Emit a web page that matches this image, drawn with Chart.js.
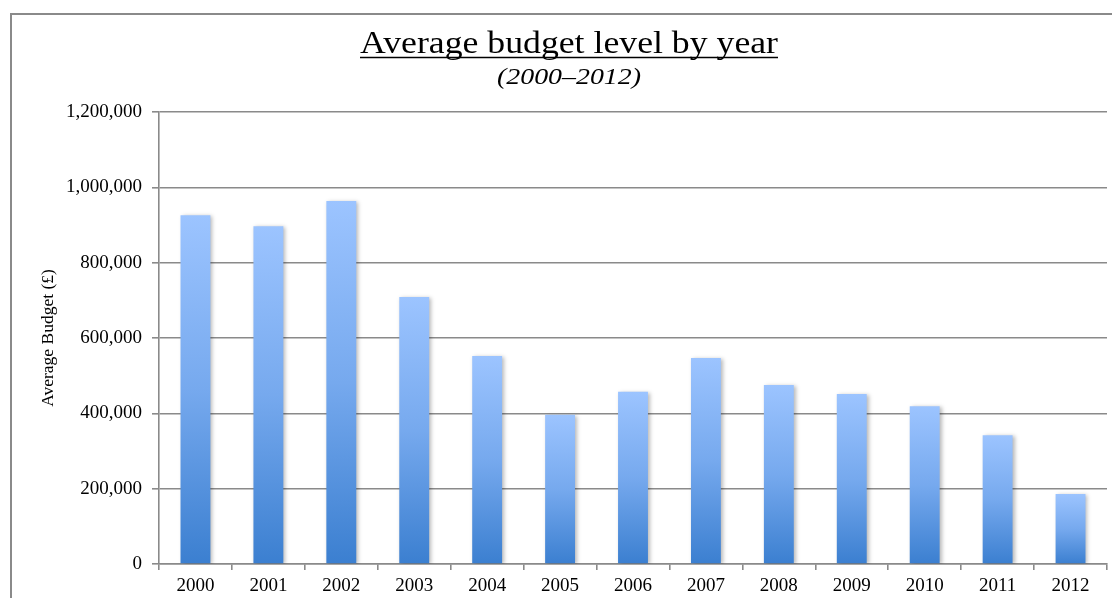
<!DOCTYPE html>
<html>
<head>
<meta charset="utf-8">
<script src="https://cdn.jsdelivr.net/npm/chart.js@4.4.1/dist/chart.umd.min.js"></script>
<style>
  html, body { margin: 0; padding: 0; background: #fff; }
  #wrap { width: 1112px; height: 598px; position: relative; }
</style>
</head>
<body>
<div id="wrap"><canvas id="budget"></canvas></div>
<script>
const years = ['2000', '2001', '2002', '2003', '2004', '2005', '2006',
               '2007', '2008', '2009', '2010', '2011', '2012'];
const avgBudget = [926000, 897000, 964000, 709000, 552000, 396000, 457000,
                   547000, 475000, 451000, 419000, 342000, 186000];
const yTicks = [0, 200000, 400000, 600000, 800000, 1000000, 1200000];

const titleText = 'Average budget level by year';
const subtitleText = '(2000\u20132012)';
const axisTitle = 'Average Budget (\u00a3)';

const serif = 'Liberation Serif, Times New Roman, serif';
const gridGrey = '#8a8a8a';

// light blue at the top of each bar, deeper blue at its base
function barGradient(ctx) {
  const chart = ctx.chart;
  const y = chart.scales.y;
  if (!y || !ctx.parsed) return '#9cc3fe';
  const top = y.getPixelForValue(ctx.parsed.y);
  const base = y.getPixelForValue(0);
  if (!isFinite(top) || !isFinite(base) || top === base) return '#9cc3fe';
  const g = chart.ctx.createLinearGradient(0, top, 0, base);
  g.addColorStop(0, '#9cc4ff');
  g.addColorStop(0.5, '#76a9ee');
  g.addColorStop(1, '#3b7fd0');
  return g;
}

// draws text centred on cx, widened horizontally to the given width
function wideText(c, text, cx, y, width) {
  const w = c.measureText(text).width;
  const sx = width / w;
  c.save();
  c.translate(cx, y);
  c.scale(sx, 1);
  c.fillText(text, 0, 0);
  c.restore();
}

// outer frame plus the underlined title block
const frameAndTitle = {
  id: 'frameAndTitle',
  beforeDraw(chart) {
    const c = chart.ctx;
    c.save();
    c.strokeStyle = gridGrey;
    c.lineWidth = 2;
    c.strokeRect(11, 14, 1300, 800);
    c.restore();
  },
  afterDraw(chart) {
    const c = chart.ctx;
    const cx = 569;
    const titleWidth = 418;
    c.save();
    c.fillStyle = '#000';
    c.textAlign = 'center';
    c.textBaseline = 'alphabetic';
    c.font = '31px ' + serif;
    wideText(c, titleText, cx, 53, titleWidth);
    c.strokeStyle = '#000';
    c.lineWidth = 1.5;
    c.beginPath();
    c.moveTo(cx - titleWidth / 2, 57.5);
    c.lineTo(cx + titleWidth / 2, 57.5);
    c.stroke();
    c.font = 'italic 23px ' + serif;
    wideText(c, subtitleText, cx, 84, 144);
    c.restore();
  }
};

// soft drop shadow to the right of the bars
const barShadow = {
  id: 'barShadow',
  beforeDatasetsDraw(chart) {
    const c = chart.ctx;
    c.save();
    c.shadowColor = 'rgba(0,0,0,0.28)';
    c.shadowBlur = 4;
    c.shadowOffsetX = 2;
    c.shadowOffsetY = 1;
  },
  afterDatasetsDraw(chart) {
    chart.ctx.restore();
  }
};

new Chart(document.getElementById('budget'), {
  type: 'bar',
  data: {
    labels: years,
    datasets: [{
      label: axisTitle,
      data: avgBudget,
      backgroundColor: barGradient,
      borderWidth: 0,
      categoryPercentage: 1,
      barPercentage: 0.41
    }]
  },
  options: {
    responsive: true,
    maintainAspectRatio: false,
    animation: false,
    layout: { padding: { left: 20, right: 5, top: 112, bottom: 0 } },
    plugins: {
      legend: { display: false },
      tooltip: { enabled: false },
      title: { display: false }
    },
    scales: {
      x: {
        afterFit(scale) { scale.height = 34; },
        grid: {
          drawOnChartArea: false,
          drawTicks: true,
          tickLength: 6,
          color: gridGrey,
          lineWidth: 1.6
        },
        border: { display: true, color: gridGrey, width: 1.6 },
        ticks: {
          color: '#000',
          padding: 5,
          font: { family: serif, size: 19 }
        }
      },
      y: {
        min: 0,
        max: 1200000,
        afterFit(scale) { scale.width = 139; },
        afterBuildTicks(scale) {
          scale.ticks = yTicks.map(v => ({ value: v }));
        },
        grid: {
          color: gridGrey,
          lineWidth: 1.6,
          drawTicks: true,
          tickLength: 7
        },
        border: { display: true, color: gridGrey, width: 1.6 },
        ticks: {
          color: '#000',
          padding: 10,
          font: { family: serif, size: 19 },
          callback: v => v.toLocaleString('en-US')
        },
        title: {
          display: true,
          text: axisTitle,
          color: '#000',
          font: { family: serif, size: 17.5 },
          padding: { top: 18, bottom: 0 }
        }
      }
    }
  },
  plugins: [frameAndTitle, barShadow]
});
</script>
</body>
</html>
